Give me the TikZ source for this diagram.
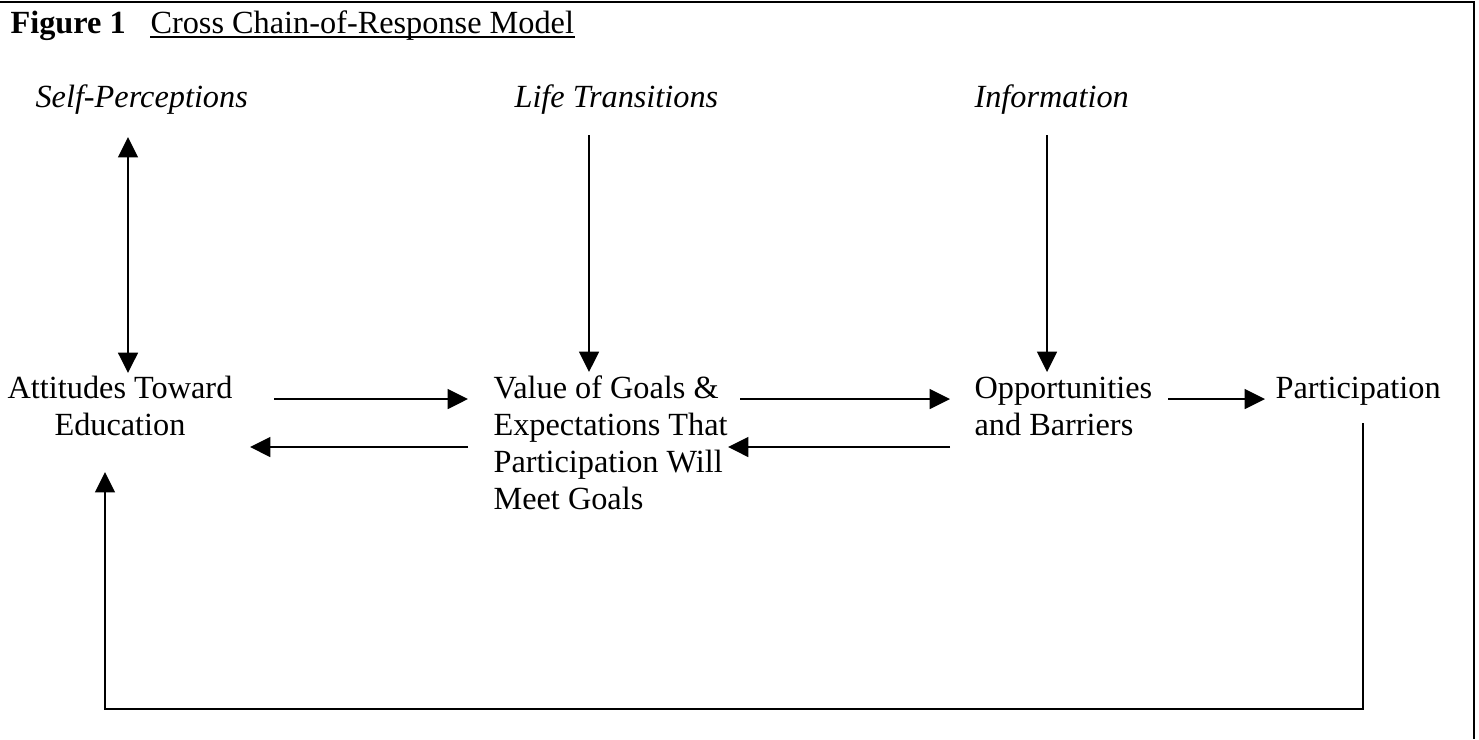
\documentclass[tikz,border=0pt]{standalone}
\usepackage{fontspec}
\setmainfont{Liberation Serif}
\usetikzlibrary{arrows.meta}
\begin{document}
\begin{tikzpicture}[x=0.3715pt,y=-0.3715pt,
  txt/.style={inner sep=0pt, font=\fontsize{12}{13.8}\selectfont},
  tip/.style={Triangle[length=7.6pt,width=7.4pt]},
  arr/.style={line width=0.75pt, -{Triangle[length=7.6pt,width=7.4pt]}},
  dbl/.style={line width=0.75pt, {Triangle[length=7.6pt,width=7.4pt]}-{Triangle[length=7.6pt,width=7.4pt]}},
  frame/.style={line width=0.7pt}]
\useasboundingbox (0,0) rectangle (1479,739);
\draw[frame] (0,2) -- (1474,2) -- (1474,739);

% title
\node[txt, anchor=base west] (fig) at (10,33) {\textbf{Figure 1}};
\node[txt, anchor=base west] (ttl) at (150,33) {Cross Chain-of-Response Model};
\draw[line width=0.5pt] ([yshift=-1.5pt]ttl.base west) -- ([yshift=-1.5pt]ttl.base east);

% influence labels
\node[txt, anchor=base west] (sp) at (35,107) {\textit{Self-Perceptions}};
\node[txt, anchor=base west] (lt) at (514,107) {\textit{Life Transitions}};
\node[txt, anchor=base west] (inf) at (974,107) {\textit{Information}};

% main chain
\node[txt, anchor=base] (att) at (120,398) {\begin{tabular}[t]{@{}c@{}}Attitudes Toward\\Education\end{tabular}};
\node[txt, anchor=base west] (val) at (493,398) {\begin{tabular}[t]{@{}l@{}}Value of Goals \&\\Expectations That\\Participation Will\\Meet Goals\end{tabular}};
\node[txt, anchor=base west] (opp) at (974,398) {\begin{tabular}[t]{@{}l@{}}Opportunities\\and Barriers\end{tabular}};
\node[txt, anchor=base west] (par) at (1275,398) {Participation};

% connector end points
\coordinate (spB) at (128,137);
\coordinate (attT) at (128,373);
\coordinate (ltB) at (589,135);
\coordinate (valT) at (589,372);
\coordinate (infB) at (1047,135);
\coordinate (oppT) at (1047,372);
\coordinate (attR1) at (274,399);
\coordinate (valL1) at (468,399);
\coordinate (valL2) at (468,447);
\coordinate (attR2) at (250,447);
\coordinate (valR1) at (740,399);
\coordinate (oppL1) at (950,399);
\coordinate (oppL2) at (950,447);
\coordinate (valR2) at (728,447);
\coordinate (oppR) at (1168,399);
\coordinate (parL) at (1265,399);
\coordinate (parB) at (1363,423);
\coordinate (loopR) at (1363,709);
\coordinate (loopL) at (105,709);
\coordinate (attB) at (105,472);

\draw[dbl] (spB) -- (attT);
\draw[arr] (ltB) -- (valT);
\draw[arr] (infB) -- (oppT);
\draw[arr] (attR1) -- (valL1);
\draw[arr] (valL2) -- (attR2);
\draw[arr] (valR1) -- (oppL1);
\draw[arr] (oppL2) -- (valR2);
\draw[arr] (oppR) -- (parL);
\draw[arr] (parB) -- (loopR) -- (loopL) -- (attB);
\end{tikzpicture}
\end{document}
